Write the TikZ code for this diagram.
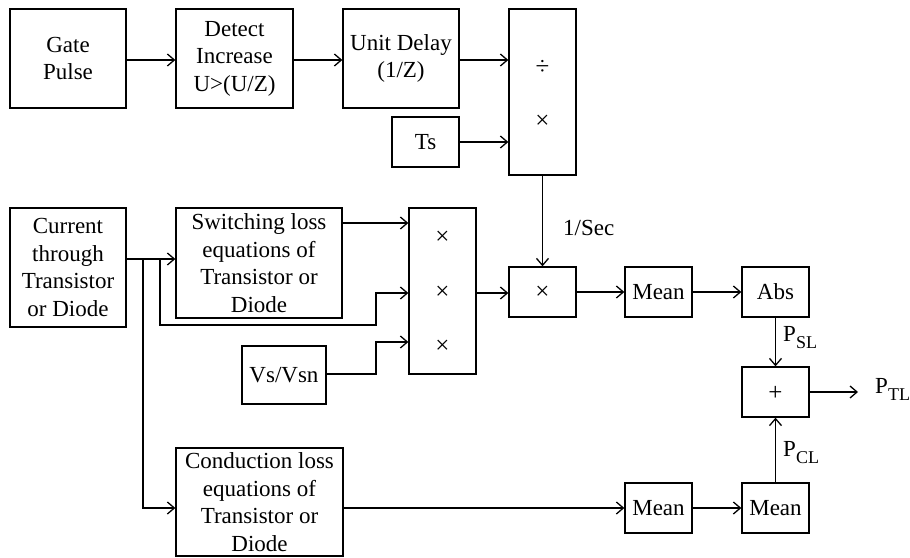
\documentclass[tikz,border=0pt]{standalone}
\usepackage{fontspec}
\setmainfont{LiberationSerif}[Extension=.ttf,UprightFont=*-Regular,BoldFont=*-Bold,ItalicFont=*-Italic,BoldItalicFont=*-BoldItalic]
\usetikzlibrary{arrows.meta,calc}
\begin{document}
\begin{tikzpicture}[x=1pt,y=-1pt,
  blk/.style={draw,line width=1.3pt,inner sep=0pt,align=center,
    font=\fontsize{23}{27.5}\selectfont},
  sym/.style={font=\fontsize{25}{28}\selectfont},
  conn/.style={line width=1.3pt,-{Straight Barb[length=7pt,width=12pt,line width=1.3pt]}},
  wire/.style={line width=1.3pt},
  lbl/.style={inner sep=0pt,anchor=west,font=\fontsize{23}{27}\selectfont}]
\useasboundingbox (0,0) rectangle (910,557);
\newcommand{\subsl}[1]{\raisebox{-7pt}{\fontsize{18}{18}\selectfont #1}}
% top row
\node[blk,minimum width=116pt,minimum height=99pt] (gate) at (68,58.5) {Gate\\Pulse};
\node[blk,minimum width=117pt,minimum height=99pt] (det) at (234.5,58.5) {Detect\\Increase\\U>(U/Z)};
\node[blk,minimum width=116pt,minimum height=99pt] (del) at (401,58.5) {Unit Delay\\(1/Z)};
\node[blk,minimum width=67pt,minimum height=166pt] (div) at (542.5,92) {};
\node[sym] (dsym) at (542.5,67) {÷};
\node[sym] (msym) at (542.5,122) {×};
\node[blk,minimum width=67pt,minimum height=50pt] (ts) at (425.5,142) {Ts};
% middle
\node[blk,minimum width=116pt,minimum height=119pt] (cur) at (68,267.5) {Current\\through\\Transistor\\or Diode};
\node[blk,minimum width=166pt,minimum height=110pt] (sw) at (259,263) {Switching loss\\equations of\\Transistor or\\Diode};
\node[blk,minimum width=67pt,minimum height=166pt] (mul) at (442.5,291) {};
\node[sym] (m1) at (442.5,238) {×};
\node[sym] (m2) at (442.5,293) {×};
\node[sym] (m3) at (442.5,347) {×};
\node[blk,minimum width=84pt,minimum height=58pt] (vs) at (284,375) {Vs/Vsn};
\node[blk,minimum width=67pt,minimum height=50pt] (mx) at (542.5,292) {};
\node[sym] (mxs) at (542.5,293) {×};
\node[blk,minimum width=67pt,minimum height=50pt] (mean1) at (658.5,292) {Mean};
\node[blk,minimum width=67pt,minimum height=50pt] (abs) at (775.5,292) {Abs};
\node[blk,minimum width=67pt,minimum height=50pt] (plus) at (775.5,392) {};
\node[sym] (ps) at (775.5,393) {+};
% bottom
\node[blk,minimum width=167pt,minimum height=108pt] (cond) at (259.5,502) {Conduction loss\\equations of\\Transistor or\\Diode};
\node[blk,minimum width=67pt,minimum height=50pt] (mb1) at (658.5,508) {Mean};
\node[blk,minimum width=67pt,minimum height=50pt] (mb2) at (775.5,508) {Mean};
% labels
\node[lbl] (sec) at (563,228) {1/Sec};
\node[lbl] (psl) at (783,338) {P\subsl{SL}};
\node[lbl] (pcl) at (783,453) {P\subsl{CL}};
\node[lbl] (ptl) at (875,389) {P\subsl{TL}};
% coordinates
\coordinate (ya) at (0,60);
\coordinate (yb) at (0,259);
\coordinate (b1) at (143,259);
\coordinate (b2) at (160,259);
\coordinate (c1) at (376,325);
\coordinate (c2) at (376,293);
\coordinate (c3) at (376,374);
\coordinate (c4) at (376,342);
\coordinate (yc) at (0,223);
\coordinate (yd) at (0,508);
\coordinate (out) at (858,392);
% connectors top
\draw[conn] (gate.east |- ya) -- (det.west |- ya);
\draw[conn] (det.east |- ya) -- (del.west |- ya);
\draw[conn] (del.east |- ya) -- (div.west |- ya);
\draw[conn] (ts.east) -- (ts.east -| div.west);
\draw[conn] (div.south) -- (mx.north);
% current branches
\draw[wire] (cur.east |- yb) -- (b2);
\draw[conn] (b2) -- (sw.west |- yb);
\draw[conn] (b2) |- (c1) -- (c2) -- (c2 -| mul.west);
\draw[conn] (b1) |- (cond.west |- yd);
\draw[conn] (sw.east |- yc) -- (mul.west |- yc);
\draw[conn] (vs.east |- c3) -- (c3) -- (c4) -- (c4 -| mul.west);
\draw[conn] (mul.east |- c2) -- (mx.west |- c2);
\draw[conn] (mx.east) -- (mean1.west);
\draw[conn] (mean1.east) -- (abs.west);
\draw[conn] (abs.south) -- (plus.north);
\draw[conn] (mb2.north) -- (plus.south);
\draw[conn] (plus.east) -- (out);
\draw[conn] (cond.east |- yd) -- (mb1.west |- yd);
\draw[conn] (mb1.east) -- (mb2.west);
\end{tikzpicture}
\end{document}
